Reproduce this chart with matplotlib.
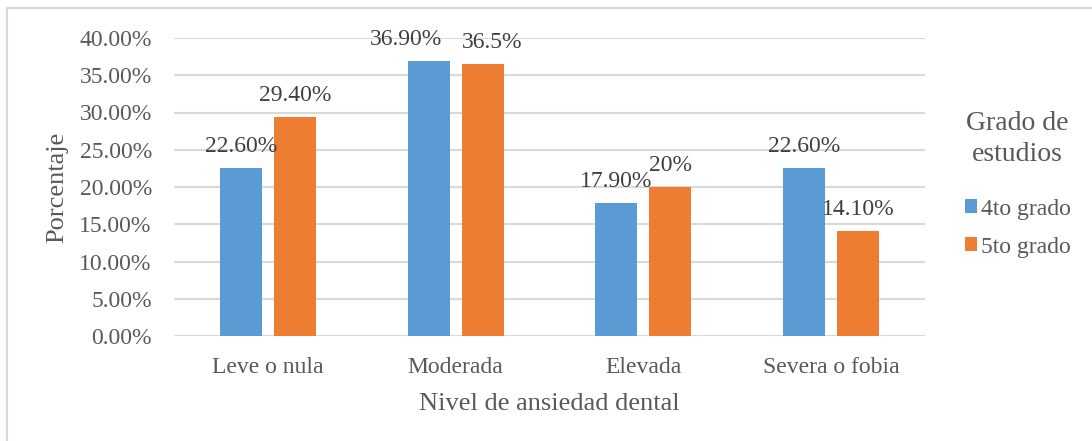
import numpy as np
import matplotlib
matplotlib.use("Agg")
import matplotlib.pyplot as plt
from matplotlib.lines import Line2D

plt.rcParams['font.family'] = ['Liberation Serif', 'DejaVu Serif']

categorias = ['Leve o nula', 'Moderada', 'Elevada', 'Severa o fobia']
grado4 = [22.6, 36.9, 17.9, 22.6]
grado5 = [29.4, 36.5, 20.0, 14.1]
etiquetas4 = ['22.60%', '36.90%', '17.90%', '22.60%']
etiquetas5 = ['29.40%', '36.5%', '20%', '14.10%']
series = ['4to grado', '5to grado']

# desplazamiento horizontal (pt) de las etiquetas que se movieron a mano
mover4 = [0, -16, 0, 0]
mover5 = [0, 7, 0, 0]

azul = '#5B9BD5'
naranja = '#ED7D31'
gris = '#595959'
rejilla = '#D9D9D9'

fig = plt.figure(figsize=(10.92, 4.41), dpi=100)
ax = fig.add_axes([174 / 1092, 1 - 336 / 441, (925 - 174) / 1092, (336 - 38) / 441])

x = np.arange(len(categorias))
ancho = 0.224
sep = ancho / 2 + 0.032
b4 = ax.bar(x - sep, grado4, ancho, color=azul, label=series[0], zorder=3)
b5 = ax.bar(x + sep, grado5, ancho, color=naranja, label=series[1], zorder=3)

for barras, textos, dx in ((b4, etiquetas4, mover4), (b5, etiquetas5, mover5)):
    for b, t, d in zip(barras, textos, dx):
        ax.annotate(t, (b.get_x() + b.get_width() / 2, b.get_height()),
                    xytext=(d, 8), textcoords='offset points',
                    ha='center', va='bottom', fontsize=17, color='#404040',
                    zorder=4, annotation_clip=False)

ax.set_xlim(-0.5, len(categorias) - 0.5)
ax.set_ylim(0, 40)
ax.set_yticks(np.arange(0, 41, 5))
ax.set_yticklabels([f'{v:.2f}%' for v in np.arange(0, 41, 5)])
ax.set_xticks(x)
ax.set_xticklabels(categorias)
ax.yaxis.grid(True, color=rejilla, linewidth=1.5, zorder=0)
ax.set_axisbelow(True)
for s in ax.spines.values():
    s.set_visible(False)
ax.tick_params(axis='both', length=0, labelsize=17, colors=gris)
ax.tick_params(axis='y', pad=16)
ax.tick_params(axis='x', pad=15)

ax.set_xlabel('Nivel de ansiedad dental', fontsize=19, color=gris, labelpad=11)
ax.set_ylabel('Porcentaje', fontsize=19, color=gris, labelpad=8)

# leyenda: título aparte para controlar el interlineado
fig.text(1017 / 1092, 1 - 139 / 441, 'Grado de\nestudios', ha='center', va='center',
         fontsize=20, color=gris, linespacing=1.35)
leg = ax.legend(loc='center left', bbox_to_anchor=(953 / 1092, 1 - 228 / 441),
                bbox_transform=fig.transFigure, frameon=False,
                fontsize=17, handlelength=0.5, handleheight=0.5,
                handletextpad=0.2, labelspacing=0.72, borderpad=0)
for t in leg.get_texts():
    t.set_color(gris)

# marco exterior del gráfico
fig.add_artist(Line2D([7 / 1092, 1], [1 - 8 / 441] * 2, transform=fig.transFigure,
                      color=rejilla, linewidth=1.5))
fig.add_artist(Line2D([7 / 1092] * 2, [0, 1 - 8 / 441], transform=fig.transFigure,
                      color=rejilla, linewidth=1.5))

fig.savefig('out.png', dpi=100)
